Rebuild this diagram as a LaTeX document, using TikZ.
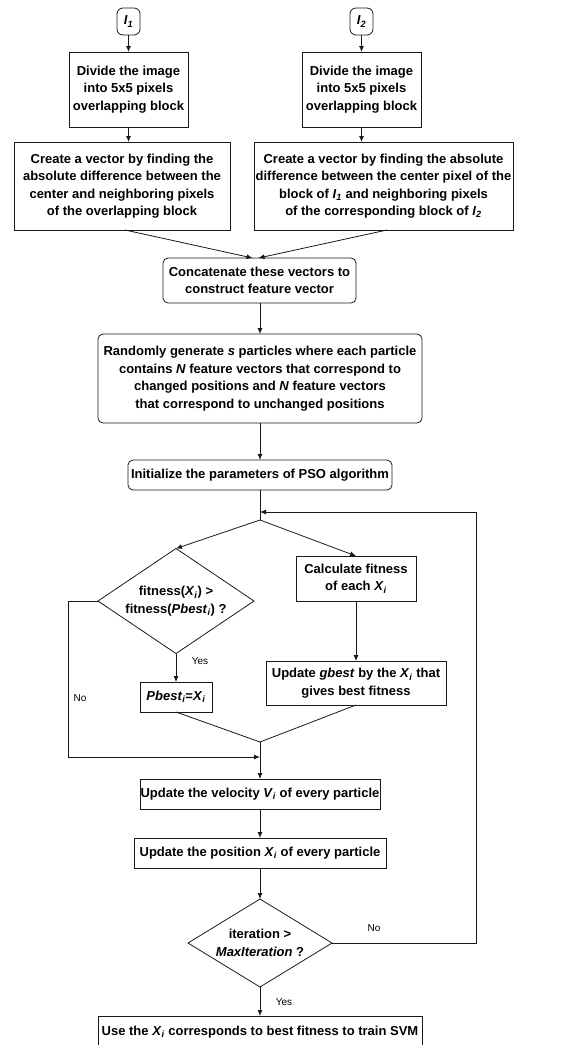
\documentclass[tikz,border=0pt]{standalone}
\usepackage{fontspec}
\setmainfont{Liberation Sans}
\usetikzlibrary{arrows.meta,shapes.geometric}
\newcommand{\vsub}[2]{\textit{#1}\textsubscript{\textit{#2}}}
\begin{document}
\begin{tikzpicture}[x=1pt,y=-1pt,
  every node/.style={inner sep=0pt, outer sep=0pt},
  txt/.style={font=\fontsize{13}{17.5}\selectfont\bfseries, align=center},
  box/.style={txt, draw=black!90, line width=0.8pt, rectangle},
  rbox/.style={box, rounded corners=5pt},
  dia/.style={draw=black!90, line width=0.8pt, diamond},
  lab/.style={font=\fontsize{10}{12}\selectfont},
  arr/.style={draw=black!90, line width=0.8pt, -{Latex[length=6pt,width=5pt]}},
  ln/.style={draw=black!90, line width=0.8pt}]
\useasboundingbox (0,0) rectangle (579,1045);
\clip (0,0) rectangle (579,1045);
% inputs
\node[rbox, rounded corners=6pt, minimum width=23, minimum height=27] (i1) at (128.5,21.5) {\vsub{I}{1}};
\node[rbox, rounded corners=6pt, minimum width=23, minimum height=27] (i2) at (361.5,21.5) {\vsub{I}{2}};
\node[box, minimum width=119, minimum height=75] (div1) at (128.5,89.5) {Divide the image\\into 5x5 pixels\\overlapping block};
\node[box, minimum width=119, minimum height=75] (div2) at (361.5,89.5) {Divide the image\\into 5x5 pixels\\overlapping block};
\node[box, minimum width=216, minimum height=88] (cr1) at (122,186) {Create a vector by finding the\\absolute difference between the\\center and neighboring pixels\\of the overlapping block};
\node[box, minimum width=259, minimum height=88] (cr2) at (383.5,186) {Create a vector by finding the absolute\\difference between the center pixel of the\\block of \vsub{I}{1} and neighboring pixels\\of the corresponding block of \vsub{I}{2}};
\node[rbox, minimum width=193, minimum height=45] (cat) at (259.5,280.5) {Concatenate these vectors to\\construct feature vector};
\node[rbox, minimum width=324, minimum height=89] (rnd) at (260,378.5) {Randomly generate \textit{s} particles where each particle\\contains \textit{N} feature vectors that correspond to\\changed positions and \textit{N} feature vectors\\that correspond to unchanged positions};
\node[rbox, minimum width=264, minimum height=30] (ini) at (260,475) {Initialize the parameters of PSO algorithm};
% loop
\node[dia, minimum width=156, minimum height=105] (d1) at (176,601) {};
\node[txt] (d1t) at (176,601) {fitness(\vsub{X}{i}) >\\fitness(\vsub{Pbest}{i}) ?};
\node[box, minimum width=120, minimum height=45] (calc) at (356,578.5) {Calculate fitness\\of each \vsub{X}{i}};
\node[box, minimum width=180, minimum height=44] (gb) at (356,683) {Update \textit{gbest} by the \vsub{X}{i} that\\gives best fitness};
\node[box, minimum width=72, minimum height=30] (pb) at (176,697) {\vsub{Pbest}{i}=\vsub{X}{i}};
\node[box, minimum width=240, minimum height=30] (vel) at (260,794) {Update the velocity \vsub{V}{i} of every particle};
\node[box, minimum width=252, minimum height=30] (pos) at (260,853) {Update the position \vsub{X}{i} of every particle};
\node[dia, minimum width=144, minimum height=88] (d2) at (260,943) {};
\node[txt] (d2t) at (260,943) {iteration >\\\textit{MaxIteration} ?};
\node[box, minimum width=324, minimum height=32] (fin) at (260,1032) {Use the \vsub{X}{i} corresponds to best fitness to train SVM};
% coordinates
\coordinate (j1) at (260,512);
\coordinate (j2) at (260,520);
\coordinate (lr) at (476,512);
\coordinate (m) at (260,742);
\coordinate (nl) at (68,757);
\coordinate (nj) at (260,757);
% connectors
\draw[arr] (i1) -- (div1);
\draw[arr] (i2) -- (div2);
\draw[arr] (div1.south) -- (div1.south |- cr1.north);
\draw[arr] (div2.south) -- (div2.south |- cr2.north);
\draw[arr] ([xshift=3pt]cr1.south) -- ([xshift=-7pt]cat.north);
\draw[arr] ([xshift=3.5pt]cr2.south) -- ([xshift=-1pt]cat.north);
\draw[arr] (cat.south -| rnd.north) -- (rnd.north);
\draw[arr] (rnd) -- (ini);
\draw[ln] (ini.south) -- (j2);
\draw[arr] (j2) -- (d1.north);
\draw[arr] (j2) -- (calc.north);
\draw[arr] (calc) -- (gb);
\draw[arr] (d1.south) -- (pb.north);
\draw[ln] (pb.south) -- (m);
\draw[ln] (gb.south) -- (m);
\draw[arr] (d1.west) -| (nl) -- (nj);
\draw[arr] (m) -- (vel.north);
\draw[arr] (vel) -- (pos);
\draw[arr] (pos.south) -- (d2.north);
\draw[arr] (d2.east) -| (lr) -- (j1);
\draw[arr] (d2.south) -- (fin.north);
% labels
\node[lab] (yes1) at (200,661) {Yes};
\node[lab] (no1) at (80,698) {No};
\node[lab] (no2) at (374,928) {No};
\node[lab] (yes2) at (284,1002) {Yes};
\end{tikzpicture}
\end{document}
